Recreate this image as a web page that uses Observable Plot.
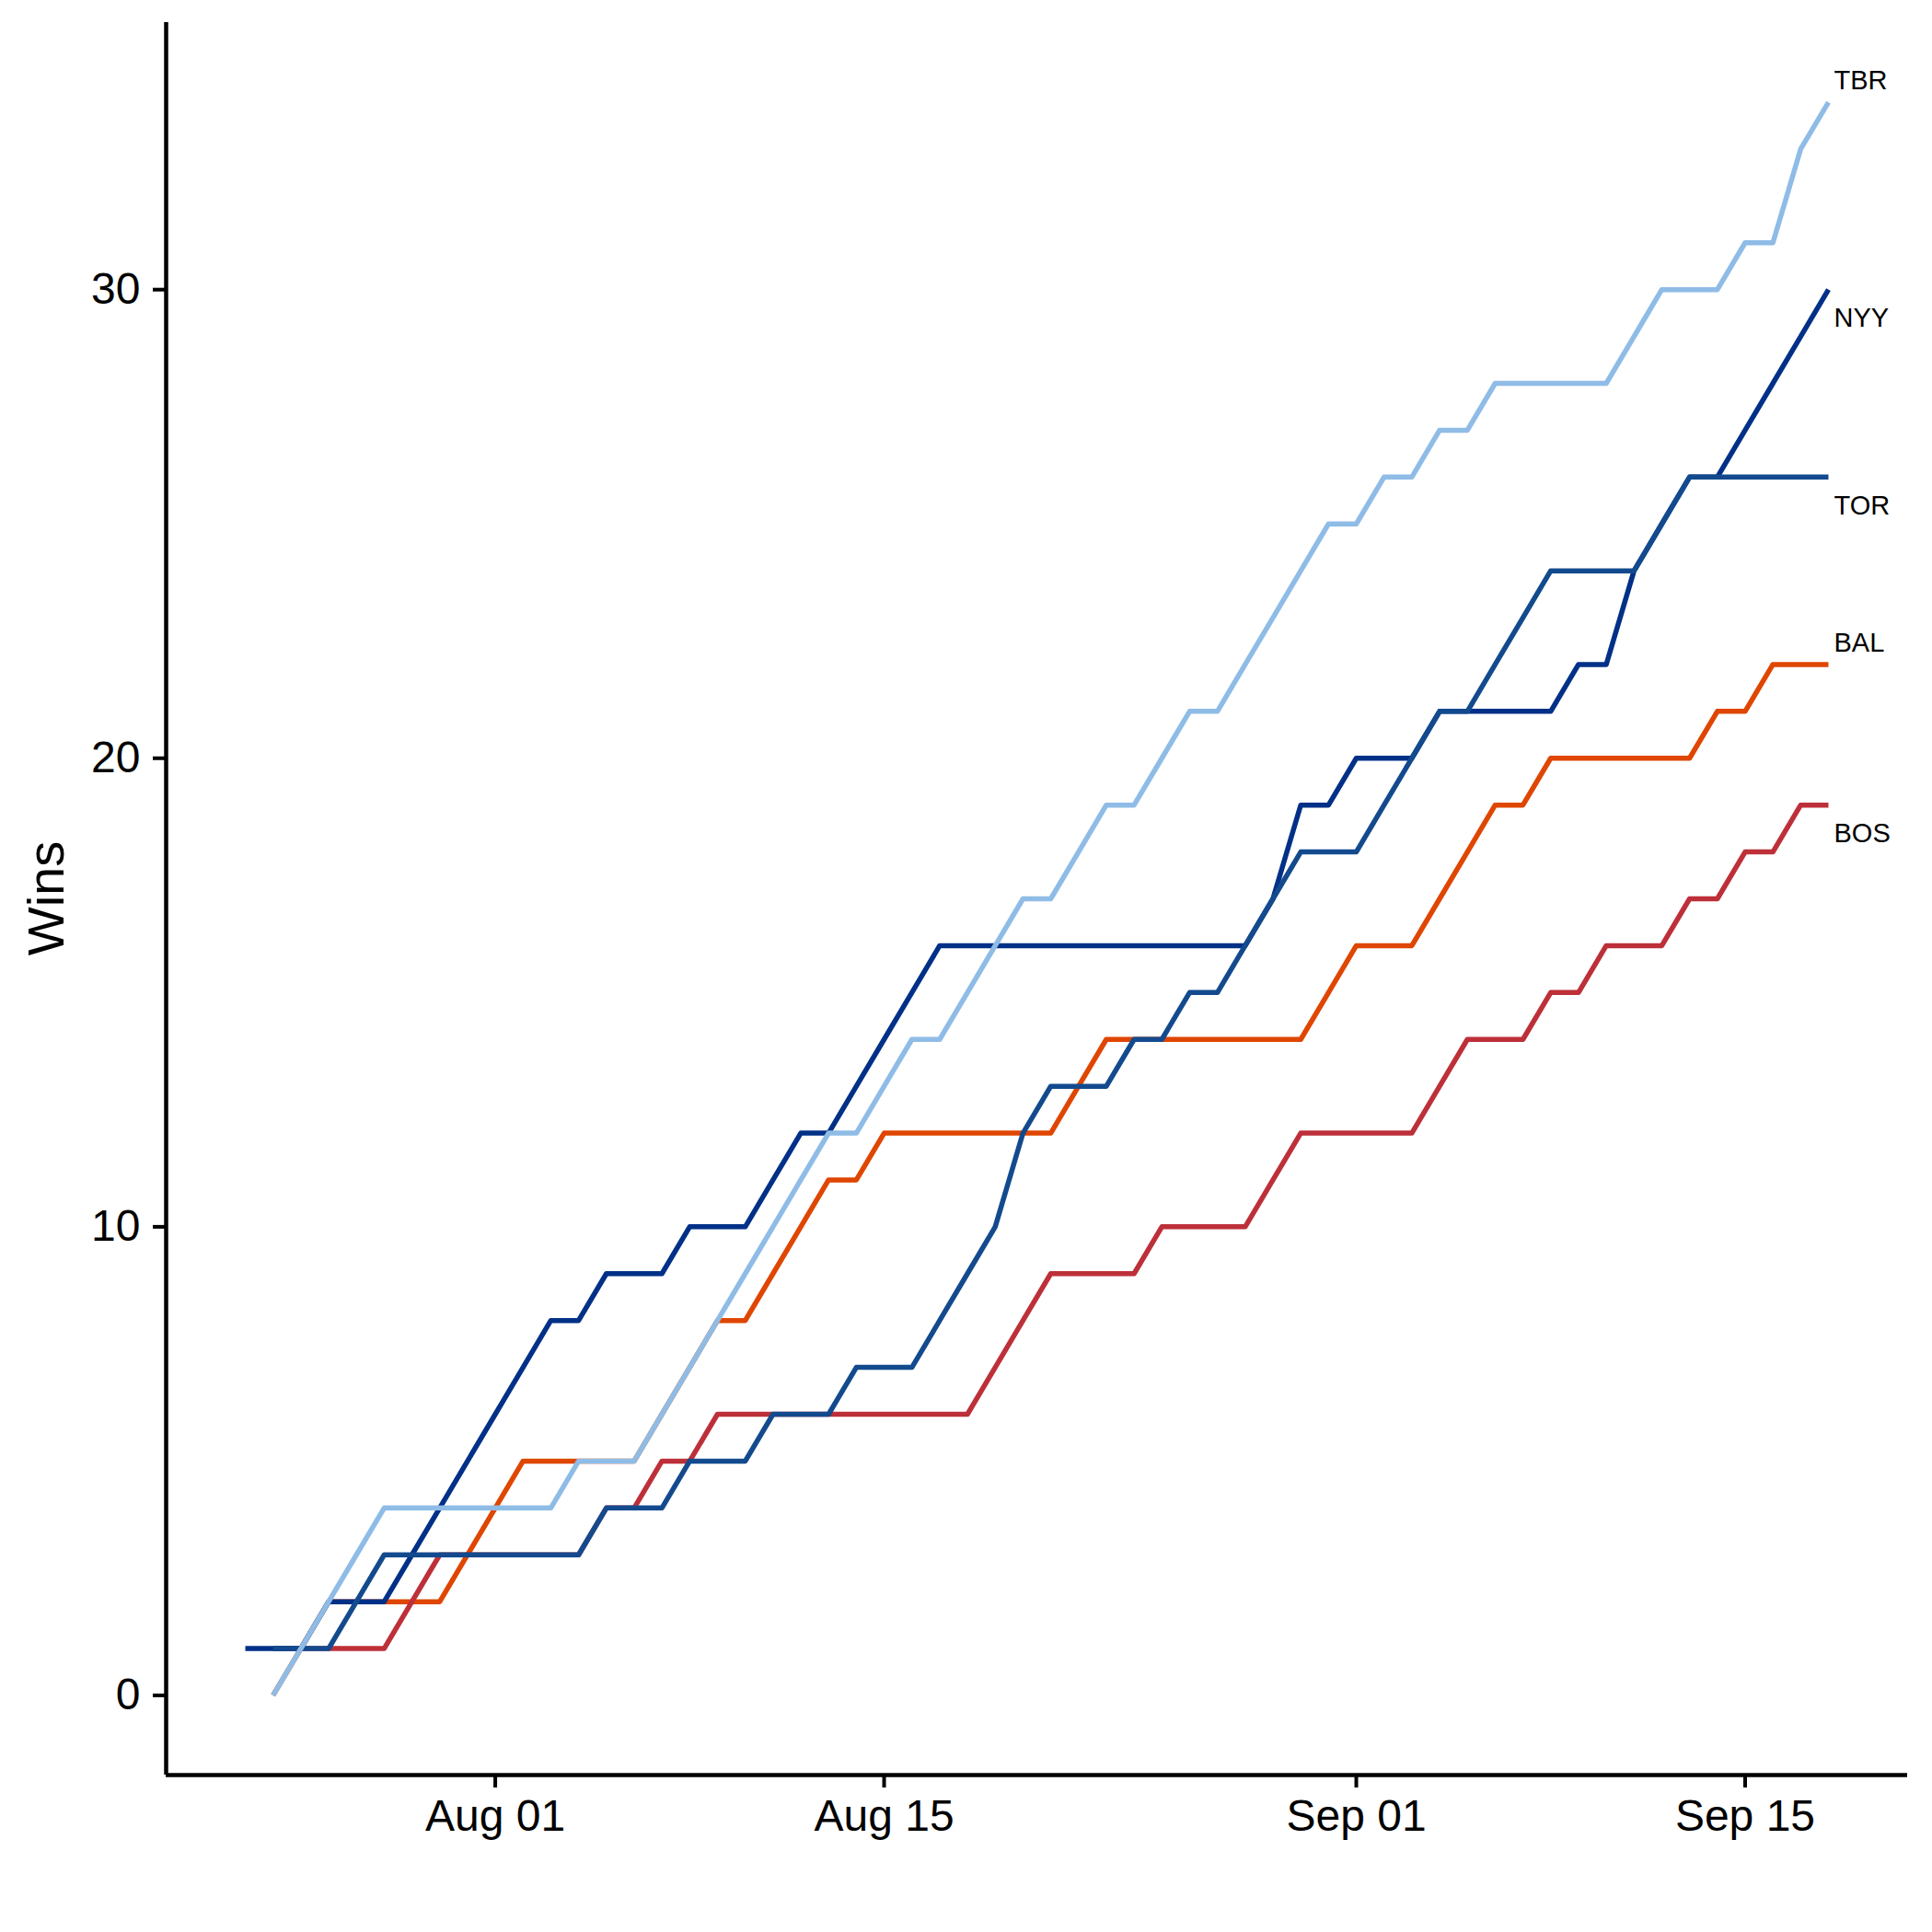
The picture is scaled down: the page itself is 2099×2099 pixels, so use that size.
<!DOCTYPE html>
<html>
<head>
<meta charset="utf-8">
<script src="https://cdn.jsdelivr.net/npm/d3@7"></script>
<script src="https://cdn.jsdelivr.net/npm/@observablehq/plot@0.6"></script>
<style>
  html, body { margin: 0; padding: 0; background: #ffffff; }
  #chart svg { display: block; }
</style>
</head>
<body>
<div id="chart"></div>
<script>
// ---- data ----
const dates = [
  "2020-07-23","2020-07-24","2020-07-25","2020-07-26","2020-07-27","2020-07-28","2020-07-29","2020-07-30","2020-07-31","2020-08-01",
  "2020-08-02","2020-08-03","2020-08-04","2020-08-05","2020-08-06","2020-08-07","2020-08-08","2020-08-09","2020-08-10","2020-08-11",
  "2020-08-12","2020-08-13","2020-08-14","2020-08-15","2020-08-16","2020-08-17","2020-08-18","2020-08-19","2020-08-20","2020-08-21",
  "2020-08-22","2020-08-23","2020-08-24","2020-08-25","2020-08-26","2020-08-27","2020-08-28","2020-08-29","2020-08-30","2020-08-31",
  "2020-09-01","2020-09-02","2020-09-03","2020-09-04","2020-09-05","2020-09-06","2020-09-07","2020-09-08","2020-09-09","2020-09-10",
  "2020-09-11","2020-09-12","2020-09-13","2020-09-14","2020-09-15","2020-09-16","2020-09-17","2020-09-18"
];
const teams = ["BAL", "BOS", "NYY", "TOR", "TBR"];
const winsBAL = [null,0,1,2,2,2,2,2,3,4, 5,5,5,5,5,6,7,8,8,9, 10,11,11,12,12,12,12,12,12,12, 13,14,14,14,14,14,14,14,14,15, 16,16,16,17,18,19,19,20,20,20, 20,20,20,21,21,22,22,22];
const winsBOS = [null,1,1,1,1,1,2,3,3,3, 3,3,3,4,4,5,5,6,6,6, 6,6,6,6,6,6,6,7,8,9, 9,9,9,10,10,10,10,11,12,12, 12,12,12,13,14,14,14,15,15,16, 16,16,17,17,18,18,19,19];
const winsNYY = [1,1,1,2,2,2,3,4,5,6, 7,8,8,9,9,9,10,10,10,11, 12,12,13,14,15,16,16,16,16,16, 16,16,16,16,16,16,16,17,19,19, 20,20,20,21,21,21,21,21,22,22, 24,25,26,26,27,28,29,30];
const winsTOR = [null,1,1,1,2,3,3,3,3,3, 3,3,3,4,4,4,5,5,5,6, 6,6,7,7,7,8,9,10,12,13, 13,13,14,14,15,15,16,17,18,18, 18,19,20,21,21,22,23,24,24,24, 24,25,26,26,26,26,26,26];
const winsTBR = [null,0,1,2,3,4,4,4,4,4, 4,4,5,5,5,6,7,8,9,10, 11,12,12,13,14,14,15,16,17,17, 18,19,19,20,21,21,22,23,24,25, 25,26,26,27,27,28,28,28,28,28, 29,30,30,30,31,31,33,34];
const xTicks = ["2020-08-01", "2020-08-15", "2020-09-01", "2020-09-15"];
const yTicks = [0, 10, 20, 30];
const labelsAbove = ["TBR", "BAL"];
const labelsBelow = ["NYY", "TOR", "BOS"];

// ---- styles ----
const teamColors = ["#DF4601", "#BD3039", "#003087", "#134A8E", "#8FBCE6"];
const FONT = "'Liberation Sans', Arial, Helvetica, sans-serif";

// ---- build table ----
const parse = d3.utcParse("%Y-%m-%d");
const series = {BAL: winsBAL, BOS: winsBOS, NYY: winsNYY, TOR: winsTOR, TBR: winsTBR};
const rows = [];
for (const t of teams) {
  series[t].forEach((w, i) => {
    if (w !== null) rows.push({team: t, date: parse(dates[i]), wins: w});
  });
}
const lastRows = teams.map(t => {
  const r = rows.filter(d => d.team === t);
  return r[r.length - 1];
});

const first = parse(dates[0]);
const last = parse(dates[dates.length - 1]);
const padT = (last - first) * 0.05;
const maxW = d3.max(rows, d => d.wins);
const padW = maxW * 0.05;

const W = 2099, H = 2099;
const chart = Plot.plot({
  width: W,
  height: H,
  marginLeft: 180,
  marginRight: 27,
  marginTop: 24,
  marginBottom: 171,
  style: {fontFamily: FONT, background: "#ffffff", color: "#000000", overflow: "visible"},
  x: {type: "utc", domain: [new Date(+first - padT), new Date(+last + padT)]},
  y: {domain: [-padW, maxW + padW]},
  color: {domain: teams, range: teamColors},
  marks: [
    Plot.line(rows, {x: "date", y: "wins", z: "team", stroke: "team", strokeWidth: 5.5, strokeLinejoin: "round", strokeLinecap: "butt"}),
    Plot.text(lastRows.filter(d => labelsAbove.includes(d.team)), {x: "date", y: "wins", text: "team", dx: 6, dy: -23, textAnchor: "start", fontSize: 29, fill: "#000000"}),
    Plot.text(lastRows.filter(d => labelsBelow.includes(d.team)), {x: "date", y: "wins", text: "team", dx: 6, dy: 31, textAnchor: "start", fontSize: 29, fill: "#000000"}),
    Plot.ruleX([new Date(+first - padT)], {stroke: "#000000", strokeWidth: 4.5}),
    Plot.ruleY([-padW], {stroke: "#000000", strokeWidth: 4.5}),
    Plot.axisX({ticks: xTicks.map(parse), tickFormat: d3.utcFormat("%b %d"), tickSize: 14, tickPadding: 12, fontSize: 48, strokeWidth: 4, label: null}),
    Plot.axisY({ticks: yTicks, tickSize: 14, tickPadding: 14, fontSize: 48, strokeWidth: 4, label: null})
  ]
});

d3.select(chart).append("text")
  .attr("transform", `translate(49, ${24 + (H - 24 - 171) / 2}) rotate(-90)`)
  .attr("text-anchor", "middle")
  .attr("dominant-baseline", "central")
  .attr("font-family", FONT)
  .attr("font-size", 56)
  .attr("fill", "#000000")
  .text("Wins");

document.getElementById("chart").appendChild(chart);
</script>
</body>
</html>
